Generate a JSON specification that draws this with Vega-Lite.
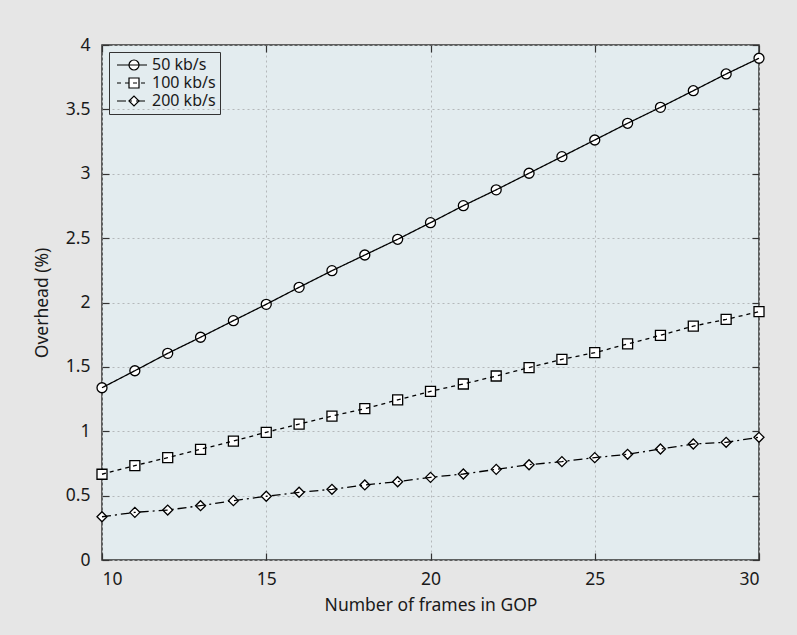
{
  "$schema": "https://vega.github.io/schema/vega-lite/v6.json",
  "autosize": {"type": "none"},
  "width": 657,
  "height": 515,
  "padding": {"left": 102, "top": 45, "right": 38, "bottom": 75},
  "background": "#e6e6e6",
  "config": {
    "font": "Noto Sans",
    "view": {"fill": "#e3ecef", "stroke": "#333333", "strokeWidth": 1.5},
    "axis": {
      "labelFont": "Noto Sans", "labelFontSize": 17.5, "labelColor": "#1a1a1a",
      "titleFont": "Noto Sans", "titleFontSize": 17.5, "titleFontWeight": "normal", "titleColor": "#1a1a1a",
      "domain": false, "tickColor": "#333333", "tickWidth": 1.2,
      "gridColor": "#b4b8ba", "gridDash": [2, 3], "gridWidth": 1
    },
    "legend": {"labelFontSize": 16}
  },
  "data": {"values": [
    {"gop": 10, "series": "50 kb/s", "overhead": 1.338},
    {"gop": 11, "series": "50 kb/s", "overhead": 1.47},
    {"gop": 12, "series": "50 kb/s", "overhead": 1.605},
    {"gop": 13, "series": "50 kb/s", "overhead": 1.73},
    {"gop": 14, "series": "50 kb/s", "overhead": 1.859},
    {"gop": 15, "series": "50 kb/s", "overhead": 1.986},
    {"gop": 16, "series": "50 kb/s", "overhead": 2.118},
    {"gop": 17, "series": "50 kb/s", "overhead": 2.247},
    {"gop": 18, "series": "50 kb/s", "overhead": 2.369},
    {"gop": 19, "series": "50 kb/s", "overhead": 2.491},
    {"gop": 20, "series": "50 kb/s", "overhead": 2.62},
    {"gop": 21, "series": "50 kb/s", "overhead": 2.752},
    {"gop": 22, "series": "50 kb/s", "overhead": 2.875},
    {"gop": 23, "series": "50 kb/s", "overhead": 3.004},
    {"gop": 24, "series": "50 kb/s", "overhead": 3.133},
    {"gop": 25, "series": "50 kb/s", "overhead": 3.262},
    {"gop": 26, "series": "50 kb/s", "overhead": 3.392},
    {"gop": 27, "series": "50 kb/s", "overhead": 3.516},
    {"gop": 28, "series": "50 kb/s", "overhead": 3.645},
    {"gop": 29, "series": "50 kb/s", "overhead": 3.775},
    {"gop": 30, "series": "50 kb/s", "overhead": 3.897},
    {"gop": 10, "series": "100 kb/s", "overhead": 0.666},
    {"gop": 11, "series": "100 kb/s", "overhead": 0.733},
    {"gop": 12, "series": "100 kb/s", "overhead": 0.795},
    {"gop": 13, "series": "100 kb/s", "overhead": 0.86},
    {"gop": 14, "series": "100 kb/s", "overhead": 0.924},
    {"gop": 15, "series": "100 kb/s", "overhead": 0.992},
    {"gop": 16, "series": "100 kb/s", "overhead": 1.056},
    {"gop": 17, "series": "100 kb/s", "overhead": 1.118},
    {"gop": 18, "series": "100 kb/s", "overhead": 1.175},
    {"gop": 19, "series": "100 kb/s", "overhead": 1.243},
    {"gop": 20, "series": "100 kb/s", "overhead": 1.31},
    {"gop": 21, "series": "100 kb/s", "overhead": 1.367},
    {"gop": 22, "series": "100 kb/s", "overhead": 1.429},
    {"gop": 23, "series": "100 kb/s", "overhead": 1.494},
    {"gop": 24, "series": "100 kb/s", "overhead": 1.559},
    {"gop": 25, "series": "100 kb/s", "overhead": 1.61},
    {"gop": 26, "series": "100 kb/s", "overhead": 1.678},
    {"gop": 27, "series": "100 kb/s", "overhead": 1.745},
    {"gop": 28, "series": "100 kb/s", "overhead": 1.817},
    {"gop": 29, "series": "100 kb/s", "overhead": 1.869},
    {"gop": 30, "series": "100 kb/s", "overhead": 1.929},
    {"gop": 10, "series": "200 kb/s", "overhead": 0.336},
    {"gop": 11, "series": "200 kb/s", "overhead": 0.37},
    {"gop": 12, "series": "200 kb/s", "overhead": 0.388},
    {"gop": 13, "series": "200 kb/s", "overhead": 0.422},
    {"gop": 14, "series": "200 kb/s", "overhead": 0.461},
    {"gop": 15, "series": "200 kb/s", "overhead": 0.495},
    {"gop": 16, "series": "200 kb/s", "overhead": 0.526},
    {"gop": 17, "series": "200 kb/s", "overhead": 0.549},
    {"gop": 18, "series": "200 kb/s", "overhead": 0.583},
    {"gop": 19, "series": "200 kb/s", "overhead": 0.608},
    {"gop": 20, "series": "200 kb/s", "overhead": 0.642},
    {"gop": 21, "series": "200 kb/s", "overhead": 0.668},
    {"gop": 22, "series": "200 kb/s", "overhead": 0.704},
    {"gop": 23, "series": "200 kb/s", "overhead": 0.74},
    {"gop": 24, "series": "200 kb/s", "overhead": 0.764},
    {"gop": 25, "series": "200 kb/s", "overhead": 0.795},
    {"gop": 26, "series": "200 kb/s", "overhead": 0.821},
    {"gop": 27, "series": "200 kb/s", "overhead": 0.862},
    {"gop": 28, "series": "200 kb/s", "overhead": 0.901},
    {"gop": 29, "series": "200 kb/s", "overhead": 0.914},
    {"gop": 30, "series": "200 kb/s", "overhead": 0.953}
  ]},
  "resolve": {"axis": {"x": "independent", "y": "independent"}},
  "layer": [
    {
      "mark": {"type": "point", "filled": false, "fill": "white", "fillOpacity": 1, "strokeWidth": 1.3, "opacity": 1, "size": 100},
      "encoding": {
        "x": {"field": "gop", "type": "quantitative", "scale": {"domain": [10, 30], "nice": false},
              "axis": {"orient": "top", "title": null, "labels": false, "grid": false, "values": [10, 15, 20, 25, 30], "tickSize": -7}},
        "y": {"field": "overhead", "type": "quantitative", "scale": {"domain": [0, 4], "nice": false},
              "axis": {"orient": "right", "title": null, "labels": false, "grid": false, "values": [0, 0.5, 1, 1.5, 2, 2.5, 3, 3.5, 4], "tickSize": -7}},
        "shape": {"field": "series", "type": "nominal",
                  "scale": {"domain": ["50 kb/s", "100 kb/s", "200 kb/s"], "range": ["circle", "square", "diamond"]},
                  "legend": {
                    "title": null, "orient": "none", "legendX": 7, "legendY": 7, "padding": 4,
                    "clipHeight": 18, "rowPadding": 0, "symbolOffset": 13, "labelOffset": 0,
                    "symbolSize": 100, "symbolOpacity": 1, "symbolFillColor": "white", "symbolStrokeColor": "black", "symbolStrokeWidth": 1.2,
                    "labelExpr": "''"
                  }},
        "stroke": {"field": "series", "type": "nominal",
                   "scale": {"domain": ["50 kb/s", "100 kb/s", "200 kb/s"], "range": ["black", "black", "black"]}}
      }
    },
    {
      "mark": {"type": "line", "color": "black", "strokeWidth": 1.3},
      "encoding": {
        "x": {"field": "gop", "type": "quantitative", "scale": {"domain": [10, 30], "nice": false},
              "axis": {"orient": "bottom", "title": "Number of frames in GOP", "values": [10, 15, 20, 25, 30], "tickSize": -7, "labelFontSize": 17.5, "titleFontSize": 17.5, "labelPadding": 17, "titlePadding": 9, "grid": true}},
        "y": {"field": "overhead", "type": "quantitative", "scale": {"domain": [0, 4], "nice": false},
              "axis": {"orient": "left", "title": "Overhead (%)", "values": [0, 0.5, 1, 1.5, 2, 2.5, 3, 3.5, 4], "labelExpr": "'' + datum.value", "tickSize": -7, "labelFontSize": 17.5, "titleFontSize": 17.5, "labelPadding": 19, "titlePadding": 14, "grid": true}},
        "strokeDash": {"field": "series", "type": "nominal",
                       "scale": {"domain": ["50 kb/s", "100 kb/s", "200 kb/s"], "range": [[1, 0], [4, 4], [9, 4, 2, 4]]},
                       "legend": {
                         "title": null, "orient": "top-left", "offset": 7, "padding": 4,
                         "strokeColor": "#333333",
                         "clipHeight": 18, "rowPadding": 0, "symbolOffset": 3, "labelOffset": 4,
                         "symbolType": "stroke", "symbolSize": 900, "symbolStrokeColor": "black", "symbolStrokeWidth": 1.2,
                         "labelFont": "Noto Sans", "labelFontSize": 16, "labelColor": "#1a1a1a"
                       }},
        "detail": {"field": "series", "type": "nominal"}
      }
    }
  ]
}
